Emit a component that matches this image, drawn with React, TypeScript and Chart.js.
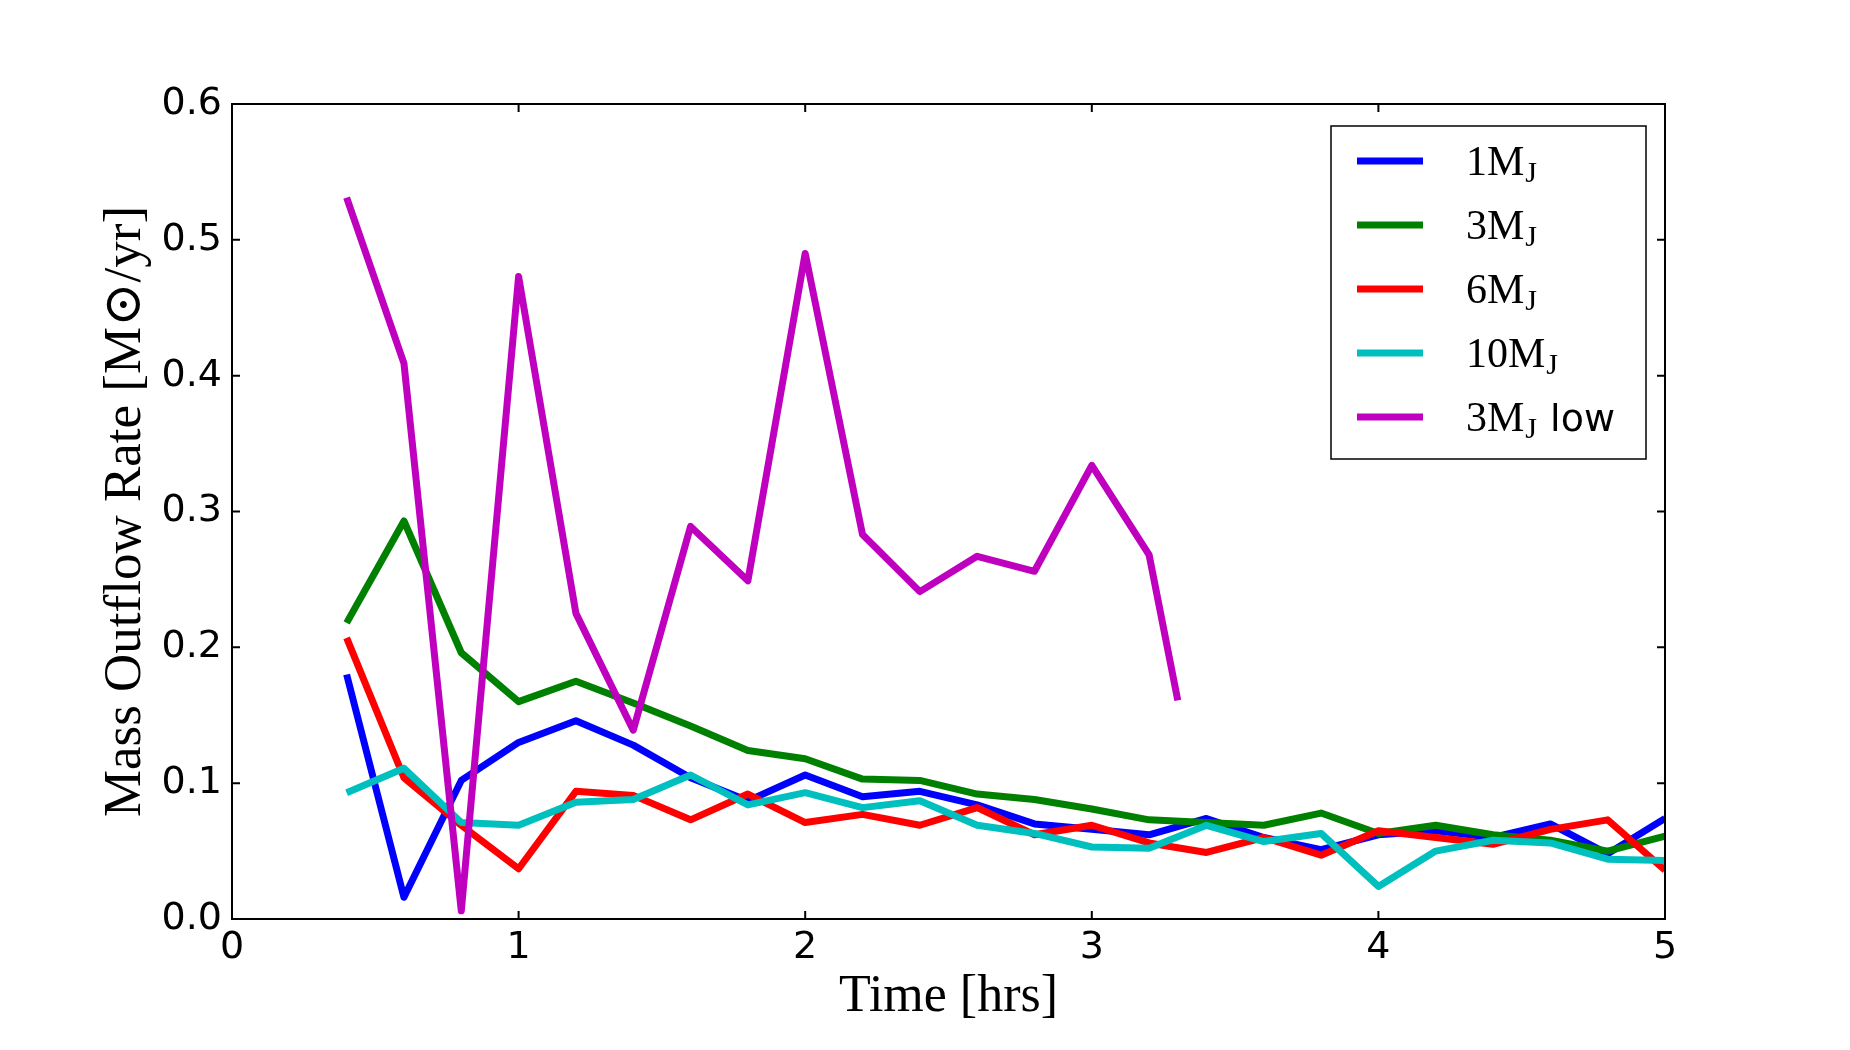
import { useEffect, useRef } from 'react'
import { Chart, registerables } from 'chart.js'

Chart.register(...registerables)

// time samples (hrs)
const times = [0.4, 0.6, 0.8, 1.0, 1.2, 1.4, 1.6, 1.8, 2.0, 2.2, 2.4, 2.6, 2.8, 3.0, 3.2, 3.4, 3.6, 3.8, 4.0, 4.2, 4.4, 4.6, 4.8, 5.0]
const lowTimes = [0.4, 0.6, 0.8, 1.0, 1.2, 1.4, 1.6, 1.8, 2.0, 2.2, 2.4, 2.6, 2.8, 3.0, 3.2, 3.3]

// mass outflow rate [Msun/yr]
const oneMj = [0.180, 0.016, 0.102, 0.130, 0.146, 0.128, 0.104, 0.087, 0.106, 0.090, 0.094, 0.084, 0.070, 0.066, 0.062, 0.074, 0.060, 0.051, 0.062, 0.065, 0.060, 0.070, 0.048, 0.074]
const threeMj = [0.218, 0.293, 0.196, 0.160, 0.175, 0.159, 0.142, 0.124, 0.118, 0.103, 0.102, 0.092, 0.088, 0.081, 0.073, 0.071, 0.069, 0.078, 0.063, 0.069, 0.062, 0.058, 0.050, 0.061]
const sixMj = [0.207, 0.104, 0.069, 0.037, 0.094, 0.091, 0.073, 0.092, 0.071, 0.077, 0.069, 0.082, 0.062, 0.069, 0.056, 0.049, 0.060, 0.047, 0.065, 0.060, 0.055, 0.066, 0.073, 0.036]
const tenMj = [0.093, 0.111, 0.071, 0.069, 0.086, 0.088, 0.106, 0.084, 0.093, 0.082, 0.087, 0.069, 0.063, 0.053, 0.052, 0.069, 0.057, 0.063, 0.024, 0.050, 0.058, 0.056, 0.044, 0.043]
const threeMjLow = [0.531, 0.409, 0.006, 0.473, 0.225, 0.139, 0.289, 0.249, 0.490, 0.283, 0.241, 0.267, 0.256, 0.334, 0.268, 0.161]

// legend labels: main text, subscript, suffix
const labels = [
  ['1M', 'J', ''],
  ['3M', 'J', ''],
  ['6M', 'J', ''],
  ['10M', 'J', ''],
  ['3M', 'J', ' low'],
]
const colors = ['#0000ff', '#008000', '#ff0000', '#00bfbf', '#bf00bf']

const xTicks = [0, 1, 2, 3, 4, 5]
const yTicks = [0, 0.1, 0.2, 0.3, 0.4, 0.5, 0.6]

const serif = '"Liberation Serif", "DejaVu Serif", serif'
const sans = '"DejaVu Sans", sans-serif'

const toPoints = (xs: number[], ys: number[]) => xs.map((x, i) => ({ x, y: ys[i] }))

// frame with inward ticks on all four sides, matplotlib classic style
const framePlugin = {
  id: 'frame',
  afterDatasetsDraw(chart: any) {
    const { ctx, chartArea: a, scales } = chart
    const len = 8
    ctx.save()
    ctx.strokeStyle = '#000'
    ctx.lineWidth = 2
    ctx.strokeRect(a.left, a.top, a.right - a.left, a.bottom - a.top)
    ctx.beginPath()
    xTicks.forEach((v) => {
      const px = scales.x.getPixelForValue(v)
      ctx.moveTo(px, a.bottom)
      ctx.lineTo(px, a.bottom - len)
      ctx.moveTo(px, a.top)
      ctx.lineTo(px, a.top + len)
    })
    yTicks.forEach((v) => {
      const py = scales.y.getPixelForValue(v)
      ctx.moveTo(a.left, py)
      ctx.lineTo(a.left + len, py)
      ctx.moveTo(a.right, py)
      ctx.lineTo(a.right - len, py)
    })
    ctx.stroke()
    ctx.restore()
  },
}

// boxed legend in the upper right corner
const legendPlugin = {
  id: 'boxLegend',
  afterDraw(chart: any) {
    const { ctx, chartArea: a } = chart
    const boxLeft = a.right - 334
    const boxTop = a.top + 22
    const boxW = 315
    const boxH = 333
    ctx.save()
    ctx.fillStyle = '#fff'
    ctx.fillRect(boxLeft, boxTop, boxW, boxH)
    ctx.strokeStyle = '#000'
    ctx.lineWidth = 1.5
    ctx.strokeRect(boxLeft, boxTop, boxW, boxH)
    chart.data.datasets.forEach((ds: any, i: number) => {
      const cy = boxTop + 35 + i * 64
      ctx.strokeStyle = ds.borderColor
      ctx.lineWidth = 7
      ctx.beginPath()
      ctx.moveTo(boxLeft + 26, cy)
      ctx.lineTo(boxLeft + 92, cy)
      ctx.stroke()
      const [main, sub, suffix] = labels[i]
      let tx = boxLeft + 135
      const base = cy + 14
      ctx.fillStyle = '#000'
      ctx.textBaseline = 'alphabetic'
      ctx.textAlign = 'left'
      ctx.font = `42px ${serif}`
      ctx.fillText(main, tx, base)
      tx += ctx.measureText(main).width
      ctx.font = `30px ${serif}`
      ctx.fillText(sub, tx + 1, base + 7)
      tx += ctx.measureText(sub).width + 2
      if (suffix) {
        ctx.font = `38px ${sans}`
        ctx.fillText(suffix, tx, base)
      }
    })
    ctx.restore()
  },
}

export default function App() {
  const canvasRef = useRef<HTMLCanvasElement | null>(null)

  useEffect(() => {
    if (!canvasRef.current) return
    const series = [
      toPoints(times, oneMj),
      toPoints(times, threeMj),
      toPoints(times, sixMj),
      toPoints(times, tenMj),
      toPoints(lowTimes, threeMjLow),
    ]
    const chart = new Chart(canvasRef.current, {
      type: 'line',
      data: {
        datasets: series.map((data, i) => ({
          label: labels[i].join(''),
          data,
          borderColor: colors[i],
          backgroundColor: colors[i],
          borderWidth: 7,
          pointRadius: 0,
          borderJoinStyle: 'round' as const,
          borderCapStyle: 'butt' as const,
          tension: 0,
          order: series.length - i,
        })),
      },
      options: {
        animation: false,
        responsive: true,
        maintainAspectRatio: false,
        layout: { padding: { top: 104, right: 185, bottom: 0, left: 0 } },
        plugins: {
          legend: { display: false },
          tooltip: { enabled: false },
        },
        scales: {
          x: {
            type: 'linear',
            min: 0,
            max: 5,
            afterFit: (s: any) => {
              s.height = 131
            },
            afterBuildTicks: (s: any) => {
              s.ticks = xTicks.map((value) => ({ value }))
            },
            grid: { display: false, drawTicks: false },
            border: { display: false },
            ticks: {
              color: '#000',
              padding: 6,
              font: { family: sans, size: 38 },
              callback: (v: any) => String(v),
            },
            title: {
              display: true,
              text: 'Time [hrs]',
              color: '#000',
              font: { family: serif, size: 52, lineHeight: 1 },
              padding: { top: 0, bottom: 27 },
            },
          },
          y: {
            type: 'linear',
            min: 0,
            max: 0.6,
            afterFit: (s: any) => {
              s.width = 232
            },
            afterBuildTicks: (s: any) => {
              s.ticks = yTicks.map((value) => ({ value }))
            },
            grid: { display: false, drawTicks: false },
            border: { display: false },
            ticks: {
              color: '#000',
              padding: 10,
              font: { family: sans, size: 38 },
              callback: (v: any) => Number(v).toFixed(1),
            },
            title: {
              display: true,
              text: 'Mass Outflow Rate [M\u2299/yr]',
              color: '#000',
              font: { family: serif, size: 53, lineHeight: 1 },
              padding: { top: 100, bottom: 0 },
            },
          },
        },
      },
      plugins: [framePlugin, legendPlugin],
    })
    return () => {
      chart.destroy()
    }
  }, [])

  return (
    <div style={{ position: 'absolute', left: 0, top: 0, width: '1850px', height: '1050px', background: '#fff' }}>
      <canvas ref={canvasRef} />
    </div>
  )
}
